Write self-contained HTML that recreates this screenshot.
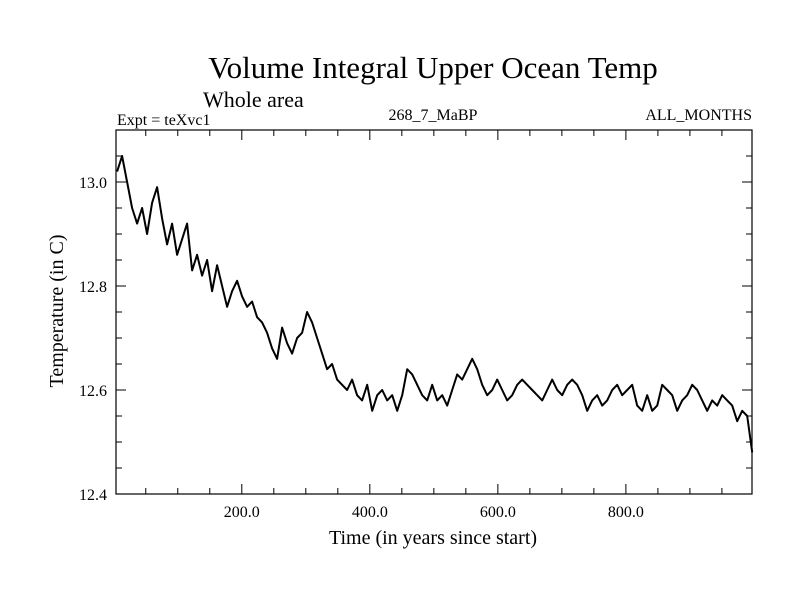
<!DOCTYPE html>
<html><head><meta charset="utf-8"><style>
body{margin:0;background:#fff;}
svg{display:block;font-family:"Liberation Serif",serif;}
</style></head><body>
<svg id="chart" width="800" height="600">
<text x="433" y="78" font-size="31" text-anchor="middle">Volume Integral Upper Ocean Temp</text>
<text x="203" y="107" font-size="22">Whole area</text>
<text x="117" y="125" font-size="16">Expt = teXvc1</text>
<text x="433" y="120" font-size="16" text-anchor="middle">268_7_MaBP</text>
<text x="752" y="120" font-size="16" text-anchor="end">ALL_MONTHS</text>
<text x="433" y="544" font-size="20" text-anchor="middle">Time (in years since start)</text>
<text x="0" y="0" font-size="20" text-anchor="middle" transform="translate(63,311) rotate(-90)">Temperature (in C)</text>
<g id="axes"></g>
<path id="line" fill="none" stroke="#000" stroke-width="2" stroke-linejoin="round"></path>
<rect x="116" y="130" width="636" height="364" fill="none" stroke="#000" stroke-width="1.2"></rect>
</svg>
<script>
const yearStart = 5.2;
const yearStep = 7.8125;
const temps = [13.02,13.05,13.00,12.95,12.92,12.95,12.90,12.96,12.99,12.93,12.88,12.92,12.86,12.89,12.92,12.83,12.86,12.82,12.85,12.79,12.84,12.80,12.76,12.79,12.81,12.78,12.76,12.77,12.74,12.73,12.71,12.68,12.66,12.72,12.69,12.67,12.70,12.71,12.75,12.73,12.70,12.67,12.64,12.65,12.62,12.61,12.60,12.62,12.59,12.58,12.61,12.56,12.59,12.60,12.58,12.59,12.56,12.59,12.64,12.63,12.61,12.59,12.58,12.61,12.58,12.59,12.57,12.60,12.63,12.62,12.64,12.66,12.64,12.61,12.59,12.60,12.62,12.60,12.58,12.59,12.61,12.62,12.61,12.60,12.59,12.58,12.60,12.62,12.60,12.59,12.61,12.62,12.61,12.59,12.56,12.58,12.59,12.57,12.58,12.60,12.61,12.59,12.60,12.61,12.57,12.56,12.59,12.56,12.57,12.61,12.60,12.59,12.56,12.58,12.59,12.61,12.60,12.58,12.56,12.58,12.57,12.59,12.58,12.57,12.54,12.56,12.55,12.48];
const xTicks = [200,400,600,800];
const xTickLabels = ["200.0","400.0","600.0","800.0"];
const yTicks = [12.4,12.6,12.8,13.0];
const yTickLabels = ["12.4","12.6","12.8","13.0"];

const X0=116,X1=752,Y0=494,Y1=130;
const xMin=3.5,xMax=997,yMin=12.4,yMax=13.1;
const sx=v=>X0+(v-xMin)/(xMax-xMin)*(X1-X0);
const sy=v=>Y0-(v-yMin)/(yMax-yMin)*(Y0-Y1);
const NS="http://www.w3.org/2000/svg";
const ax=document.getElementById('axes');
function ln(x1,y1,x2,y2,name){const l=document.createElementNS(NS,'line');
l.setAttribute('x1',x1);l.setAttribute('y1',y1);l.setAttribute('x2',x2);l.setAttribute('y2',y2);
l.setAttribute('stroke','#000');l.setAttribute('stroke-width','1');


ax.appendChild(l);}
function tx(x,y,s,anchor,name){const t=document.createElementNS(NS,'text');
t.setAttribute('x',x);t.setAttribute('y',y);t.setAttribute('font-size','16');t.setAttribute('text-anchor',anchor);t.textContent=s;


ax.appendChild(t);}
for(let v=50;v<xMax;v+=50){const x=sx(v);const L=(v%200===0)?10:6;
ln(x,Y0,x,Y0-L,'x-tick');ln(x,Y1,x,Y1+L,'x-tick-top');}
for(let v=12.45;v<yMax;v+=0.05){const y=sy(v);const major=Math.abs(Math.round(v*10)/10-v)<1e-6&&Math.round(v*10)%2===0;const L=major?10:6;
ln(X0,y,X0+L,y,'y-tick');ln(X1,y,X1-L,y,'y-tick-right');}
xTicks.forEach((v,i)=>tx(sx(v),517,xTickLabels[i],'middle','x-tick-label'));
yTicks.forEach((v,i)=>tx(107,sy(v)+6,yTickLabels[i],'end','y-tick-label'));
let d='';temps.forEach((t,i)=>{const yr=yearStart+i*yearStep;d+=(i?'L':'M')+sx(yr).toFixed(1)+','+sy(t).toFixed(1);});
document.getElementById('line').setAttribute('d',d);
</script>
</body></html>
